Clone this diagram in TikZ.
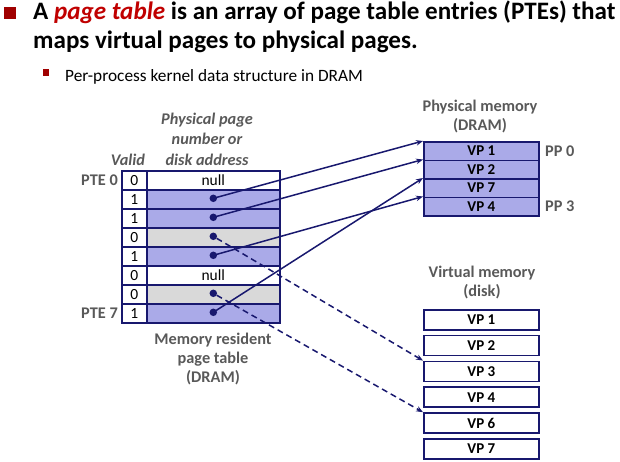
\documentclass[tikz,border=0pt]{standalone}
\usepackage{fontspec}
\setmainfont{Carlito}
\usetikzlibrary{arrows.meta}
\definecolor{navy}{RGB}{24,24,110}
\definecolor{lav}{RGB}{170,170,232}
\definecolor{lgray}{RGB}{217,217,217}
\definecolor{lblgray}{RGB}{89,89,89}
\definecolor{bred}{RGB}{160,0,0}
\definecolor{tred}{RGB}{192,0,0}
\tikzset{
  cell/.style={draw=navy,line width=1.6pt,rectangle,inner sep=0pt,anchor=north west,font=\fontsize{15.5}{17}\selectfont},
  vcell/.style={cell,fill=white,minimum width=25pt,minimum height=19pt},
  pcell/.style={cell,minimum width=133pt,minimum height=19pt},
  pmem/.style={cell,fill=lav,minimum width=115pt,minimum height=18.5pt,font=\bfseries\fontsize{15}{17}\selectfont},
  vmem/.style={cell,fill=white,minimum width=115pt,minimum height=20pt,font=\bfseries\fontsize{15}{17}\selectfont},
  lbl/.style={text=lblgray,font=\bfseries\fontsize{16.3}{19}\selectfont,align=center,inner sep=0pt},
  ilbl/.style={lbl,font=\bfseries\itshape\fontsize{16.3}{20.5}\selectfont},
  dot/.style={circle,fill=navy,inner sep=0pt,minimum size=7.5pt},
  ptr/.style={draw=navy,line width=1.5pt,-{Stealth[length=7pt,width=5.5pt]}},
  dptr/.style={ptr,dash pattern=on 6pt off 4pt},
}
\begin{document}
\begin{tikzpicture}[x=1pt,y=-1pt]
\useasboundingbox (0,0) rectangle (620,461);
% heading
\fill[bred] (4,7) rectangle (16,19);
\node[anchor=base west,inner sep=0pt,font=\bfseries\fontsize{25.1}{29}\selectfont] (t1) at (33,19) {A \textcolor{tred}{\itshape page table} is an array of page table entries (PTEs) that};
\node[anchor=base west,inner sep=0pt,font=\bfseries\fontsize{25.1}{29}\selectfont] (t2) at (33,48) {maps virtual pages to physical pages.};
\fill[bred] (43,69) rectangle (49,76);
\node[anchor=base west,inner sep=0pt,font=\fontsize{17.3}{22}\selectfont] (t3) at (65,81) {Per-process kernel data structure in DRAM};
% page table
\foreach \i/\v/\f in {0/0/white,1/1/lav,2/1/lav,3/0/lgray,4/1/lav,5/0/white,6/0/lgray,7/1/lav}{
  \node[vcell] (v\i) at (121,170+19*\i) {\v};
  \node[pcell,fill=\f] (p\i) at (146,170+19*\i) {};
}
\node[font=\fontsize{15.5}{17}\selectfont,inner sep=0pt] (n0) at (p0) {null};
\node[font=\fontsize{15.5}{17}\selectfont,inner sep=0pt] (n5) at (p5) {null};
\foreach \i in {1,2,3,4,6,7}{
  \node[dot] (d\i) at ([yshift=1pt]p\i.center) {};
}
\node[lbl,anchor=east] (pte0) at (118,180) {PTE 0};
\node[lbl,anchor=east] (pte7) at (118,313) {PTE 7};
\node[ilbl] (valid) at (128,160) {Valid};
\node[ilbl] (ppn) at (207,139) {Physical page\\number or\\disk address};
\node[lbl] (mrpt) at (213,359) {Memory resident\\page table\\(DRAM)};
% physical memory
\foreach \i/\t in {0/VP 1,1/VP 2,2/VP 7,3/VP 4}{
  \node[pmem] (m\i) at (423,141+18.5*\i) {\t};
}
\node[lbl] (pmt) at (480,117) {Physical memory\\(DRAM)};
\node[lbl,anchor=west] (pp0) at (545,151) {PP 0};
\node[lbl,anchor=west] (pp3) at (545,206) {PP 3};
% virtual memory
\foreach \i/\t in {0/VP 1,1/VP 2,2/VP 3,3/VP 4,4/VP 6,5/VP 7}{
  \node[vmem] (w\i) at (423,309+25.8*\i) {\t};
}
\node[lbl] (vmt) at (482,283) {Virtual memory\\(disk)};
% pointers
\draw[ptr] (d1.center) -- (m0.north west);
\draw[ptr] (d2.center) -- (m1.north west);
\draw[ptr] (d4.center) -- (m3.north west);
\draw[ptr] (d7.center) -- (m2.north west);
\draw[dptr] (d3) -- (w2.north west);
\draw[dptr] (d6) -- (w4.north west);
\end{tikzpicture}
\end{document}
